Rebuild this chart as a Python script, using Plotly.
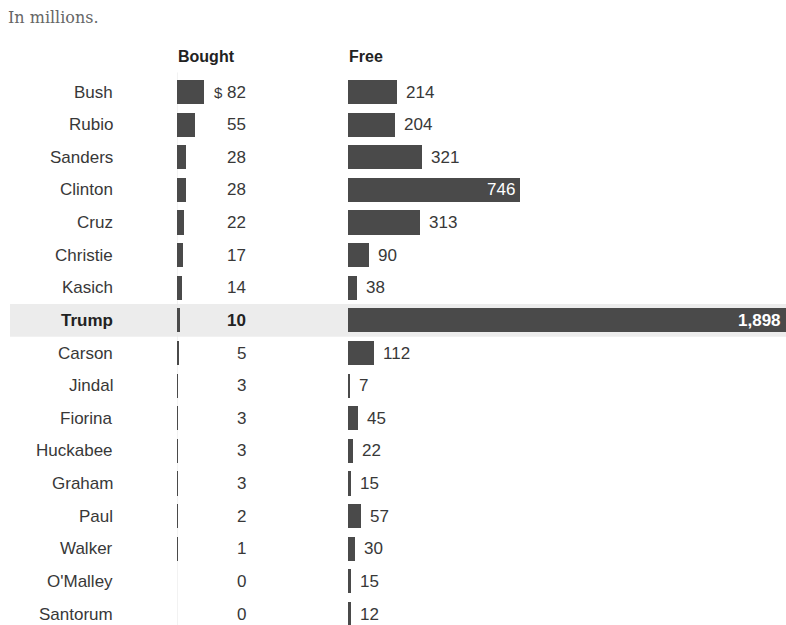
import plotly.graph_objects as go

names = ["Bush", "Rubio", "Sanders", "Clinton", "Cruz", "Christie", "Kasich", "Trump",
         "Carson", "Jindal", "Fiorina", "Huckabee", "Graham", "Paul", "Walker", "O'Malley", "Santorum"]
bought = [82, 55, 28, 28, 22, 17, 14, 10, 5, 3, 3, 3, 3, 2, 1, 0, 0]
free = [214, 204, 321, 746, 313, 90, 38, 1898, 112, 7, 45, 22, 15, 57, 30, 15, 12]
highlight = "Trump"
inside_min = 700  # free values labelled inside their bar

W, H = 786, 625
BAR = "#4a4a4a"
TXT = "#383838"
FONT = "Liberation Sans, Arial, sans-serif"
FS = 17

def px(x):
    return x / W

fig = go.Figure()

fig.add_trace(go.Bar(x=bought, y=names, orientation="h", marker_color=BAR,
                     marker_line_width=0, width=0.74, xaxis="x", yaxis="y",
                     hoverinfo="x+y"))
fig.add_trace(go.Bar(x=free, y=names, orientation="h", marker_color=BAR,
                     marker_line_width=0, width=0.74, xaxis="x2", yaxis="y",
                     hoverinfo="x+y"))

n = len(names)
row_px = 32.625
first_px = 92
y_top = -first_px / row_px
y_bot = (H - first_px) / row_px

b0, b1 = 177, 300
f0 = 348
fig.update_layout(
    width=W, height=H, margin=dict(l=0, r=0, t=0, b=0),
    paper_bgcolor="white", plot_bgcolor="rgba(0,0,0,0)",
    showlegend=False, bargap=0,
    xaxis=dict(domain=[px(b0), px(b1)], range=[0, (b1 - b0) / 0.33], visible=False),
    xaxis2=dict(domain=[px(f0), 1], range=[0, max(free)], visible=False, anchor="y"),
    yaxis=dict(domain=[0, 1], range=[y_bot, y_top], visible=False,
               categoryorder="array", categoryarray=names),
    font=dict(family=FONT, color=TXT, size=FS),
)

hi = names.index(highlight)
fig.add_shape(type="rect", xref="paper", yref="y", x0=px(10), x1=1,
              y0=hi - 0.5, y1=hi + 0.5, fillcolor="#ececec", line_width=0, layer="below")
fig.add_shape(type="line", xref="x", yref="y", x0=0, x1=0, y0=-0.6, y1=n - 0.3,
              line=dict(color="#e6e6e6", width=1), layer="below")

for nm, b, f in zip(names, bought, free):
    bold = nm == highlight
    fig.add_annotation(x=px(115), xref="paper", y=nm, yref="y", xanchor="right",
                       yanchor="middle", text=f"<b>{nm}</b>" if bold else nm,
                       showarrow=False, font=dict(size=FS, color="#222" if bold else TXT))
    lab = f"<b>{b}</b>" if bold else str(b)
    if nm == names[0]:
        lab = "<span style='font-size:15px'>$</span> " + lab
    fig.add_annotation(x=px(248), xref="paper", y=nm, yref="y", xanchor="right",
                       yanchor="middle", text=lab, showarrow=False,
                       font=dict(size=FS, color="#222" if bold else TXT))
    flab = f"{f:,}"
    if bold:
        flab = f"<b>{flab}</b>"
    if f >= inside_min:
        fig.add_annotation(x=f, xref="x2", y=nm, yref="y", xanchor="right", xshift=-3,
                           yanchor="middle", text=flab, showarrow=False,
                           font=dict(size=FS, color="white"))
    else:
        fig.add_annotation(x=f, xref="x2", y=nm, yref="y", xanchor="left", xshift=7,
                           yanchor="middle", text=flab, showarrow=False,
                           font=dict(size=FS, color=TXT))

fig.add_annotation(x=px(6), xref="paper", y=1 - 17 / H, yref="paper", xanchor="left",
                   yanchor="middle", text="In millions.", showarrow=False,
                   font=dict(family="DejaVu Serif, serif", size=16, color="#666"))
fig.add_annotation(x=px(b0 - 1), xref="paper", y=1 - 57 / H, yref="paper", xanchor="left",
                   yanchor="middle", text="<b>Bought</b>", showarrow=False,
                   font=dict(size=16, color="#222"))
fig.add_annotation(x=px(f0 - 1), xref="paper", y=1 - 57 / H, yref="paper", xanchor="left",
                   yanchor="middle", text="<b>Free</b>", showarrow=False,
                   font=dict(size=16, color="#222"))

fig.write_html("out.html", config={"displayModeBar": False},
               post_script="document.body.style.margin='0';")
